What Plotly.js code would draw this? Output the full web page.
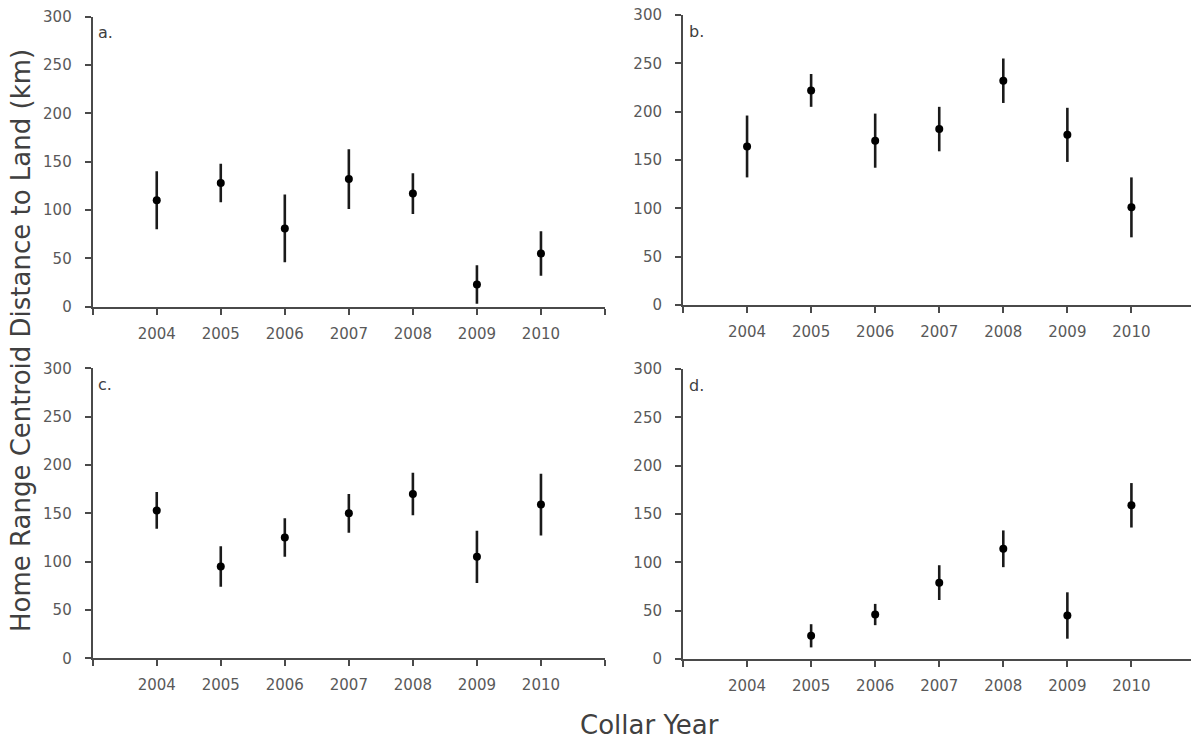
<!DOCTYPE html>
<html>
<head>
<meta charset="utf-8">
<script src="https://cdn.plot.ly/plotly-3.0.1.min.js"></script>
<style>
  html, body { margin: 0; padding: 0; background: #ffffff; }
  #chart { width: 1191px; height: 740px; }
</style>
</head>
<body>
<div id="chart"></div>
<script>
// ---- Data ----
const years = [2004, 2005, 2006, 2007, 2008, 2009, 2010];
const tickLabels = ['2004', '2005', '2006', '2007', '2008', '2009', '2010'];
const panelLabels = ['a.', 'b.', 'c.', 'd.'];

const meanA = [110, 128, 81, 132, 117, 23, 55];
const errA  = [30, 20, 35, 31, 21, 20, 23];

const meanB = [164, 222, 170, 182, 232, 176, 101];
const errB  = [32, 17, 28, 23, 23, 28, 31];

const meanC = [153, 95, 125, 150, 170, 105, 159];
const errC  = [19, 21, 20, 20, 22, 27, 32];

const meanD = [null, 24, 46, 79, 114, 45, 159];
const errD  = [null, 12, 11, 18, 19, 24, 23];

const yTitle = 'Home Range Centroid Distance to Land (km)';
const xTitle = 'Collar Year';

// ---- Styling ----
const FONT = 'DejaVu Sans, Verdana, sans-serif';
const AXIS_COLOR = '#4a4a4a';
const TICK_FONT = { family: FONT, size: 15, color: '#595959' };

const tickVals = [years[0] - 1].concat(years, [years[years.length - 1] + 1]);
const tickText = [''].concat(tickLabels, ['']);

function trace(mean, err, xa, ya) {
  return {
    type: 'scatter', mode: 'markers',
    x: years, y: mean, xaxis: xa, yaxis: ya,
    marker: { color: '#000000', size: 8 },
    error_y: { type: 'data', array: err, visible: true, color: '#1a1a1a', thickness: 2.6, width: 0 },
    hoverinfo: 'x+y', showlegend: false
  };
}

const data = [
  trace(meanA, errA, 'x', 'y'),
  trace(meanB, errB, 'x2', 'y2'),
  trace(meanC, errC, 'x3', 'y3'),
  trace(meanD, errD, 'x4', 'y4')
];

function xAxis(domain, range, anchor) {
  return {
    domain: domain, range: range, anchor: anchor,
    showgrid: false, zeroline: false,
    showline: true, linecolor: AXIS_COLOR, linewidth: 2,
    ticks: 'outside', ticklen: 6, tickwidth: 2, tickcolor: AXIS_COLOR,
    tickmode: 'array', tickvals: tickVals, ticktext: tickText,
    tickfont: TICK_FONT, ticklabelstandoff: 6
  };
}
function yAxis(domain, anchor) {
  return {
    domain: domain, range: [0, 300], anchor: anchor,
    showgrid: false, zeroline: false,
    showline: true, linecolor: AXIS_COLOR, linewidth: 2,
    ticks: 'outside', ticklen: 6, tickwidth: 2, tickcolor: AXIS_COLOR,
    tickmode: 'linear', tick0: 0, dtick: 50,
    tickfont: TICK_FONT, ticklabelstandoff: 10
  };
}

const leftDom = [92.7 / 1191, 605 / 1191];
const rightDom = [683 / 1191, 1];
const leftRange = [2003, 2011];
const rightRange = [2003, 2010.93];

const refs = [['x', 'y'], ['x2', 'y2'], ['x3', 'y3'], ['x4', 'y4']];
const annotations = panelLabels.map((t, i) => ({
  text: t, xref: refs[i][0] + ' domain', yref: refs[i][1] + ' domain',
  x: 0.007, y: 0.944, xanchor: 'left', yanchor: 'middle', showarrow: false,
  font: { family: FONT, size: 16, color: '#404040' }
}));
annotations.push({
  text: yTitle, xref: 'paper', yref: 'paper', x: 21 / 1191, y: 1 - 341 / 740,
  xanchor: 'center', yanchor: 'middle', textangle: -90, showarrow: false,
  font: { family: FONT, size: 26, color: '#404040' }
});
annotations.push({
  text: xTitle, xref: 'paper', yref: 'paper', x: 649 / 1191, y: 1 - 725 / 740,
  xanchor: 'center', yanchor: 'middle', showarrow: false,
  font: { family: FONT, size: 26, color: '#404040' }
});

const layout = {
  width: 1191, height: 740,
  margin: { l: 0, r: 0, t: 0, b: 0 },
  paper_bgcolor: '#ffffff', plot_bgcolor: '#ffffff',
  font: { family: FONT },
  xaxis:  xAxis(leftDom, leftRange, 'y'),
  yaxis:  yAxis([1 - 306.7 / 740, 1 - 16.7 / 740], 'x'),
  xaxis2: xAxis(rightDom, rightRange, 'y2'),
  yaxis2: yAxis([1 - 305 / 740, 1 - 15 / 740], 'x2'),
  xaxis3: xAxis(leftDom, leftRange, 'y3'),
  yaxis3: yAxis([1 - 658.3 / 740, 1 - 368.3 / 740], 'x3'),
  xaxis4: xAxis(rightDom, rightRange, 'y4'),
  yaxis4: yAxis([1 - 659 / 740, 1 - 369 / 740], 'x4'),
  annotations: annotations,
  showlegend: false
};

Plotly.newPlot('chart', data, layout, { displayModeBar: false, staticPlot: true });
</script>
</body>
</html>
